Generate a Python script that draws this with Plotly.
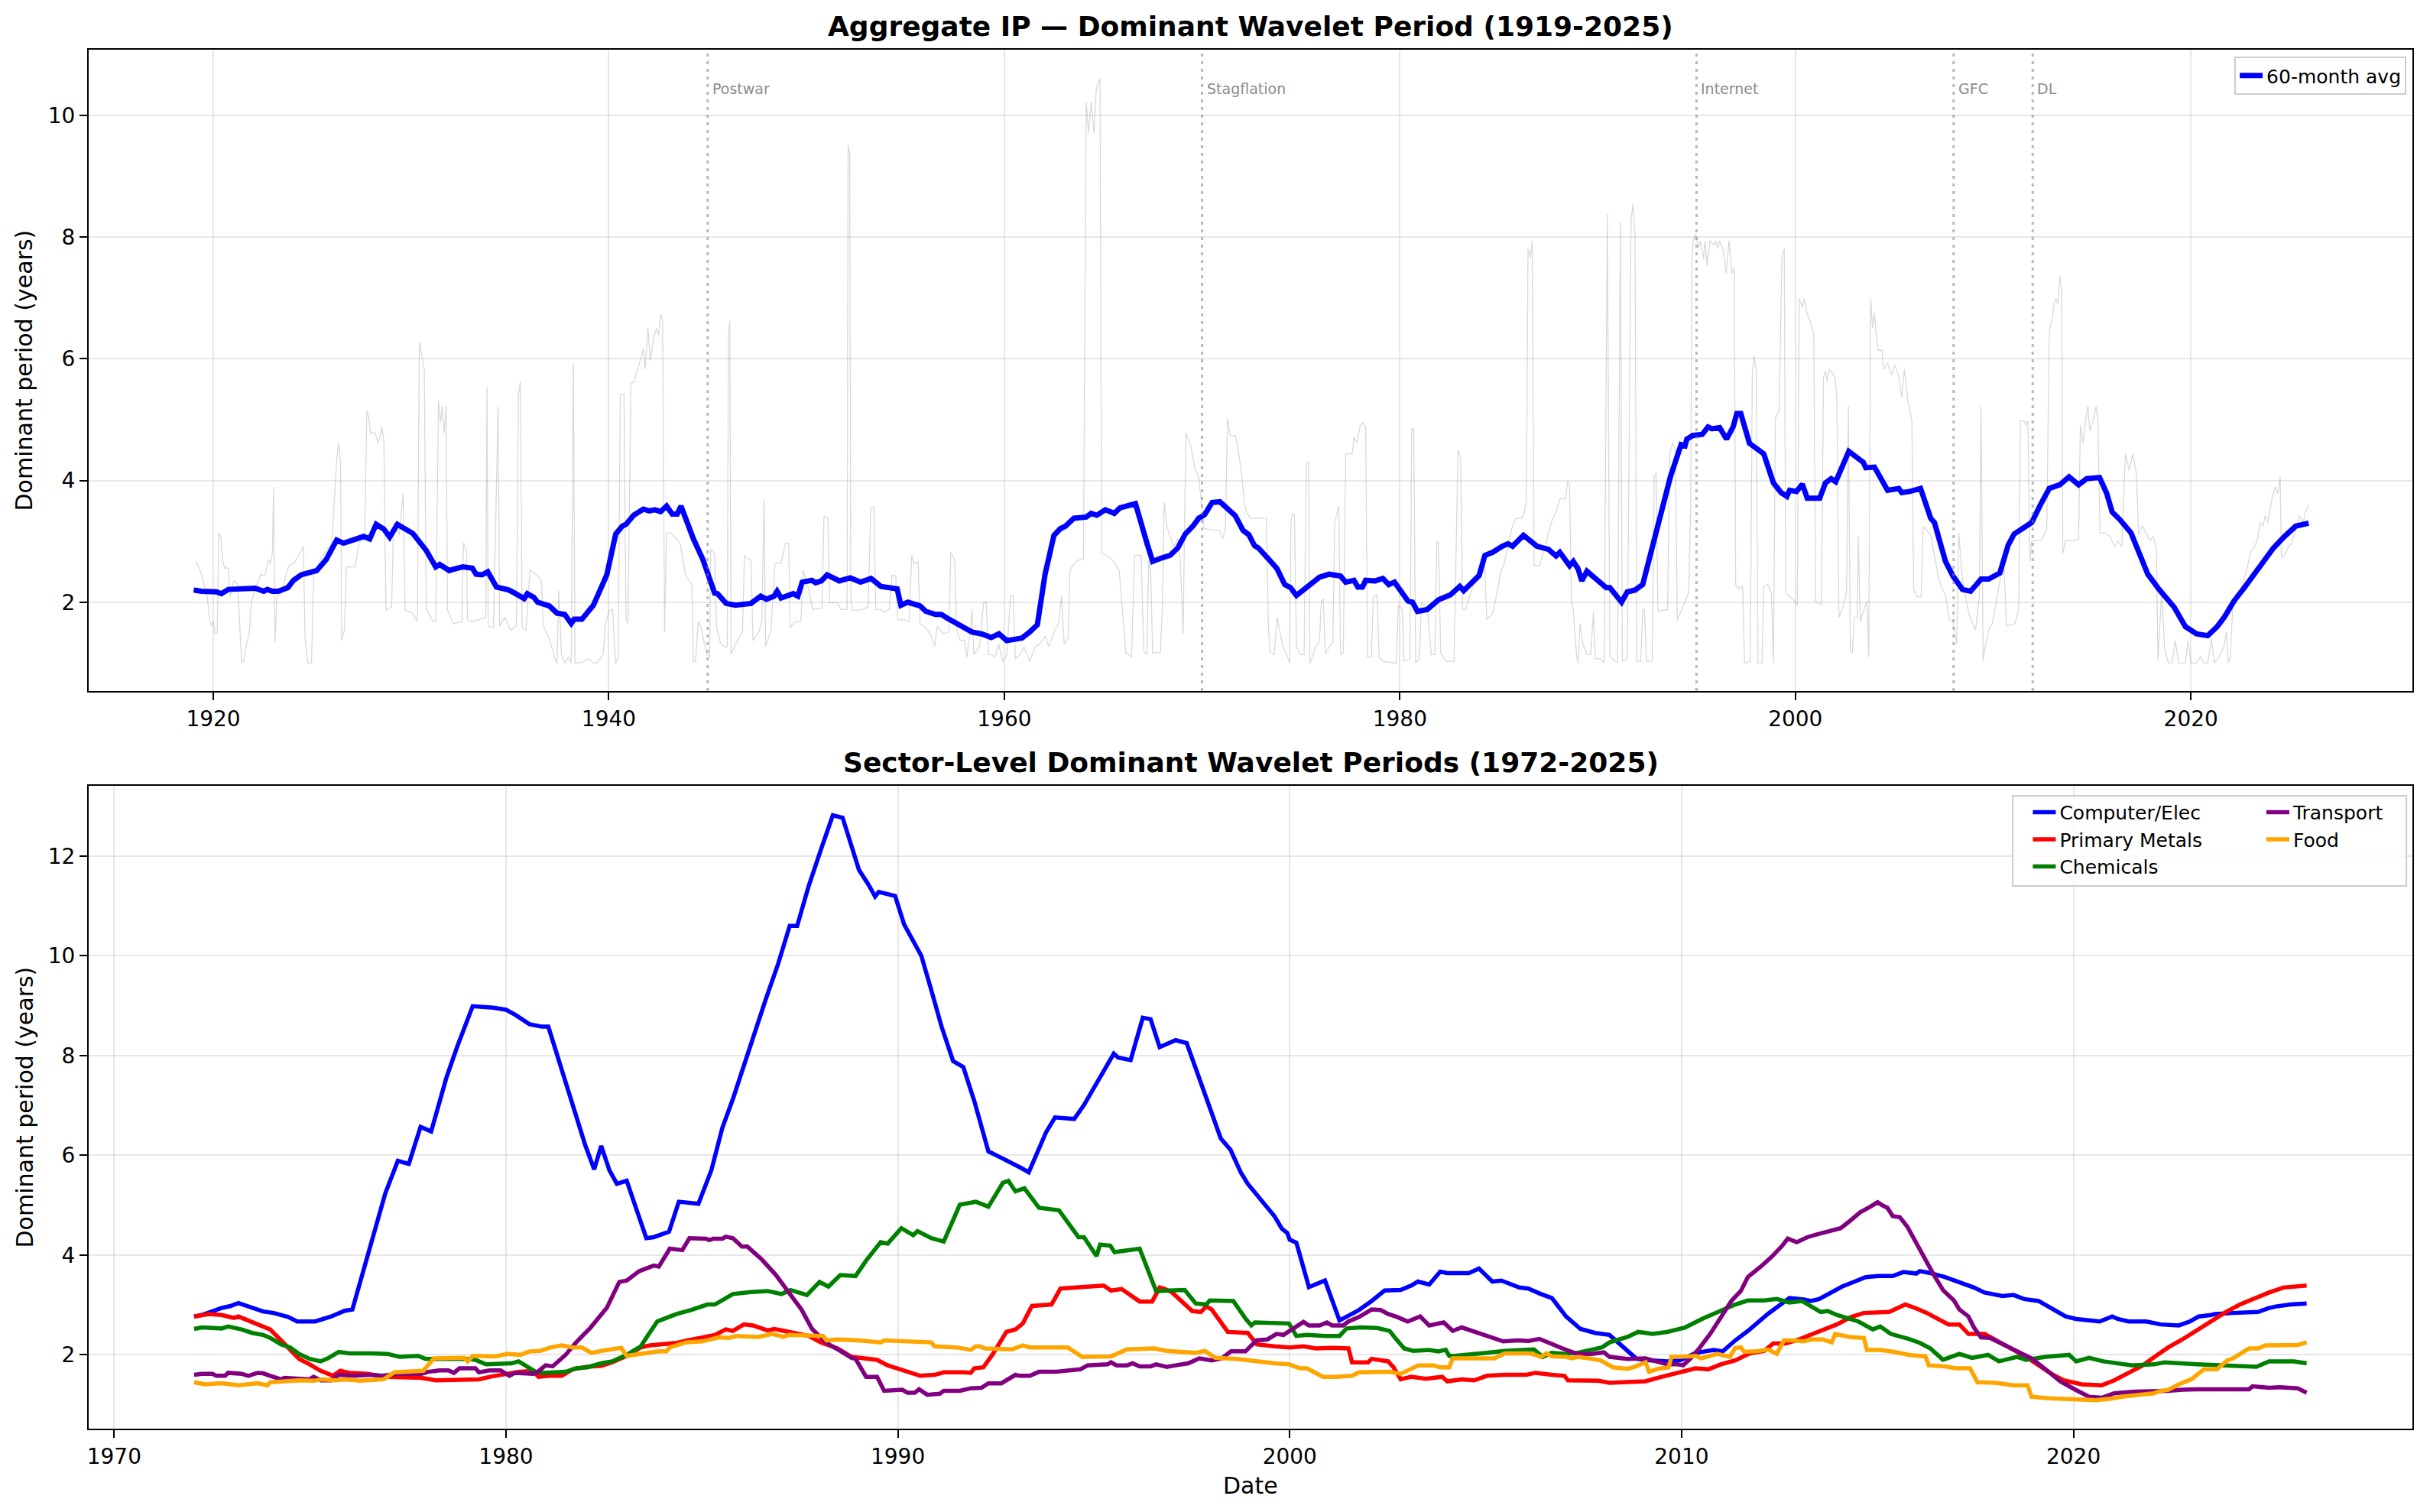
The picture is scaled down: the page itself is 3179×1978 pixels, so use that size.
import plotly.graph_objects as go

# ---------------- Top panel data: aggregate IP ----------------
raw_years = [1919.1,1919.2,1919.4,1919.7,1919.8,1919.9,1920.0,1920.1,1920.2,1920.28,1920.38,1920.47,1920.57,1920.76,1920.86,1921.05,1921.24,1921.43,1921.53,1921.68,1921.82,1921.92,1922.12,1922.41,1922.6,1922.8,1922.9,1922.99,1923.05,1923.12,1923.22,1923.47,1923.67,1923.82,1924.15,1924.45,1924.56,1924.64,1924.78,1924.97,1925.07,1925.42,1925.99,1926.24,1926.34,1926.44,1926.49,1926.63,1926.73,1927.17,1927.37,1927.66,1927.76,1927.86,1927.95,1928.19,1928.34,1928.53,1928.63,1928.73,1929.02,1929.12,1929.41,1929.6,1929.7,1930.09,1930.32,1930.42,1930.54,1930.67,1930.77,1931.06,1931.25,1931.39,1931.49,1931.58,1931.68,1931.78,1931.84,1932.13,1932.57,1932.65,1932.81,1932.85,1933.1,1933.78,1933.84,1933.9,1934.17,1934.4,1934.48,1934.75,1935.04,1935.33,1935.43,1935.53,1935.62,1935.82,1936.01,1936.4,1936.59,1936.69,1936.98,1937.28,1937.38,1937.47,1937.61,1937.77,1937.96,1938.1,1938.21,1938.29,1938.64,1938.93,1939.22,1939.42,1939.71,1939.85,1940.04,1940.19,1940.35,1940.48,1940.58,1940.77,1940.87,1940.97,1941.12,1941.26,1941.55,1941.75,1941.84,1941.98,1942.1,1942.29,1942.43,1942.52,1942.62,1942.72,1942.82,1942.92,1943.11,1943.31,1943.6,1943.89,1944.2,1944.28,1944.38,1944.52,1944.67,1944.96,1945.1,1945.15,1945.35,1945.45,1945.64,1945.83,1945.99,1946.05,1946.12,1946.18,1946.41,1946.76,1946.86,1947.09,1947.19,1947.29,1947.58,1947.74,1947.85,1947.93,1948.2,1948.4,1948.71,1948.94,1949.1,1949.17,1949.43,1949.72,1949.82,1950.1,1950.3,1950.59,1950.78,1950.88,1951.08,1951.17,1951.56,1951.75,1952.05,1952.1,1952.18,1952.24,1952.33,1952.72,1953.11,1953.25,1953.4,1953.5,1953.79,1953.89,1954.18,1954.32,1954.51,1954.61,1954.96,1955.19,1955.31,1955.44,1955.64,1955.74,1956.03,1956.32,1956.48,1956.61,1956.9,1957.2,1957.29,1957.49,1957.59,1957.78,1957.98,1958.11,1958.27,1958.37,1958.46,1958.75,1958.95,1959.08,1959.2,1959.33,1959.53,1959.71,1959.92,1960.12,1960.31,1960.45,1960.56,1960.8,1960.99,1961.28,1961.57,1961.77,1962.06,1962.25,1962.54,1962.74,1962.89,1963.03,1963.22,1963.32,1963.61,1963.81,1964.0,1964.14,1964.26,1964.39,1964.53,1964.65,1964.84,1964.92,1965.17,1965.46,1965.81,1965.95,1966.14,1966.43,1966.59,1966.92,1967.05,1967.21,1967.3,1967.4,1967.5,1967.89,1967.99,1968.08,1968.22,1968.38,1968.57,1968.77,1968.9,1969.04,1969.18,1969.43,1969.63,1969.82,1970.11,1970.5,1970.89,1971.05,1971.18,1971.28,1971.42,1971.67,1971.77,1971.96,1972.16,1972.25,1972.45,1973.25,1973.35,1973.45,1973.64,1973.79,1973.89,1974.09,1974.28,1974.42,1974.49,1974.57,1974.67,1974.77,1974.96,1975.16,1975.27,1975.39,1975.45,1975.54,1975.74,1975.93,1976.03,1976.13,1976.23,1976.42,1976.61,1976.71,1976.91,1977.0,1977.14,1977.26,1977.59,1977.68,1977.84,1977.98,1978.11,1978.27,1978.37,1978.56,1978.66,1978.85,1978.95,1979.14,1979.82,1979.92,1980.12,1980.21,1980.51,1980.6,1980.7,1980.8,1980.99,1981.09,1981.38,1981.58,1981.77,1981.87,1981.96,1982.06,1982.35,1982.74,1982.94,1983.07,1983.17,1983.33,1983.52,1983.72,1984.01,1984.26,1984.4,1984.69,1984.92,1985.12,1985.27,1985.47,1985.66,1985.86,1986.15,1986.28,1986.4,1986.48,1986.6,1986.69,1986.79,1987.06,1987.22,1987.41,1987.7,1987.9,1988.09,1988.39,1988.48,1988.58,1988.68,1988.77,1988.93,1989.01,1989.11,1989.26,1989.46,1989.65,1989.79,1989.88,1990.14,1990.33,1990.49,1990.62,1991.01,1991.15,1991.25,1991.5,1991.69,1991.79,1991.89,1991.98,1992.18,1992.28,1992.37,1992.47,1992.76,1992.86,1992.96,1993.05,1993.54,1993.64,1993.79,1993.93,1994.03,1994.22,1994.42,1994.61,1994.71,1994.77,1994.84,1994.96,1995.1,1995.19,1995.35,1995.43,1995.54,1995.68,1995.88,1995.97,1996.07,1996.17,1996.36,1996.5,1996.65,1996.79,1996.91,1996.98,1997.14,1997.33,1997.43,1997.72,1997.82,1997.92,1998.02,1998.11,1998.31,1998.4,1998.6,1998.79,1998.89,1998.99,1999.18,1999.32,1999.44,1999.51,1999.71,1999.96,2000.1,2000.19,2000.35,2000.45,2000.58,2000.74,2000.93,2001.03,2001.32,2001.42,2001.52,2001.61,2001.71,2002.0,2002.1,2002.2,2002.43,2002.59,2002.68,2002.78,2002.88,2002.98,2003.13,2003.18,2003.28,2003.43,2003.62,2003.71,2003.81,2003.9,2004.0,2004.09,2004.19,2004.38,2004.47,2004.66,2004.85,2005.04,2005.23,2005.38,2005.51,2005.7,2005.89,2005.98,2006.17,2006.36,2006.46,2006.65,2006.84,2007.03,2007.22,2007.41,2007.59,2007.78,2007.97,2008.07,2008.16,2008.26,2008.45,2008.64,2008.83,2009.11,2009.3,2009.39,2009.49,2009.58,2009.77,2009.96,2010.15,2010.34,2010.53,2010.68,2011.1,2011.29,2011.38,2011.57,2011.67,2011.76,2011.86,2011.95,2012.42,2012.71,2012.84,2012.99,2013.09,2013.18,2013.28,2013.37,2013.47,2013.52,2013.66,2014.13,2014.32,2014.41,2014.55,2014.66,2014.79,2014.89,2015.08,2015.21,2015.3,2015.4,2015.64,2015.93,2016.12,2016.31,2016.5,2016.69,2016.88,2017.06,2017.25,2017.35,2017.54,2017.73,2017.92,2018.11,2018.26,2018.33,2018.52,2018.67,2018.86,2019.05,2019.2,2019.39,2019.72,2019.85,2020.0,2020.28,2020.47,2020.66,2020.85,2021.04,2021.17,2021.42,2021.67,2021.8,2021.89,2021.99,2022.12,2022.27,2022.46,2022.65,2022.84,2023.03,2023.22,2023.37,2023.5,2023.64,2023.75,2023.88,2023.98,2024.13,2024.26,2024.39,2024.51,2024.58,2024.73,2024.92,2025.11,2025.3,2025.49,2025.68,2025.78,2025.97]
raw_period = [2.67,2.63,2.46,2.09,1.75,1.61,1.68,1.49,1.49,3.14,3.08,2.70,2.56,2.56,2.09,2.36,2.29,1.02,1.02,1.31,1.48,1.99,2.22,2.46,2.43,2.70,2.63,2.80,3.89,1.34,2.09,2.16,2.43,2.60,2.67,2.84,2.91,1.41,1.0,1.0,2.43,2.70,2.97,4.33,4.61,4.30,1.37,1.54,2.58,2.58,2.97,3.11,5.14,5.05,4.78,4.78,4.61,4.88,4.61,1.87,1.92,3.31,3.11,3.79,1.87,1.82,1.68,6.27,6.07,5.83,1.88,1.71,1.68,5.32,4.95,5.22,4.78,5.23,1.88,1.65,1.68,2.97,2.84,1.71,1.68,1.75,5.53,1.61,1.58,5.22,1.61,1.75,1.54,1.61,5.42,5.63,1.58,1.54,2.53,2.43,2.36,1.61,1.41,1.07,1.0,2.19,1.14,1.0,1.10,1.0,5.93,1.0,1.01,1.07,1.0,1.01,1.14,1.68,1.87,1.88,1.0,1.10,5.42,5.42,1.71,1.65,5.61,5.61,5.93,6.17,5.83,6.50,5.97,6.38,6.50,6.39,6.73,6.62,1.51,3.14,3.14,3.08,2.97,2.43,2.29,1.02,1.02,1.68,1.58,1.14,1.10,2.87,2.80,1.58,1.34,1.27,1.27,6.44,6.62,1.14,1.31,1.51,2.77,2.70,2.70,1.37,1.51,1.68,3.69,1.27,1.54,2.63,2.65,2.97,2.97,1.58,1.68,1.68,2.53,2.22,1.88,1.90,1.90,3.42,3.38,1.99,1.99,1.88,1.88,9.51,9.37,2.02,1.87,1.87,1.92,3.55,3.57,1.88,1.88,1.83,1.88,2.44,2.43,1.71,1.71,1.68,2.77,2.63,2.67,1.65,1.58,1.44,1.27,1.61,1.48,1.51,2.82,2.70,1.54,1.37,1.37,1.10,1.54,1.88,1.14,1.27,1.99,2.02,1.14,1.14,1.10,1.31,1.03,1.12,2.09,2.12,1.07,1.14,1.27,1.03,1.27,1.31,1.44,1.27,1.54,1.65,2.10,1.31,1.41,2.53,2.67,2.70,2.71,10.22,9.71,10.22,9.71,10.43,10.61,2.80,2.77,2.70,2.53,1.99,1.17,1.10,2.77,2.77,1.20,1.14,2.70,2.50,1.17,1.17,1.88,3.65,3.25,3.08,2.91,3.04,2.67,1.48,4.78,4.57,4.20,4.06,3.21,3.19,3.18,3.04,3.21,5.02,4.74,4.74,4.61,4.20,3.59,3.48,3.38,3.38,1.61,1.17,1.14,1.75,1.58,1.27,1.14,1.0,3.31,3.45,3.45,1.27,1.14,1.14,4.30,4.30,1.0,1.07,1.27,1.34,2.02,2.05,1.14,1.27,1.34,3.31,3.59,1.14,1.17,4.44,4.44,4.71,4.62,4.88,4.95,4.88,1.10,1.10,2.09,2.12,1.10,1.03,1.0,1.95,1.88,1.03,1.07,4.85,4.85,1.0,1.07,1.99,1.92,1.14,1.14,3.01,2.97,1.17,1.03,1.03,4.51,4.37,1.88,1.88,2.09,2.29,2.39,2.80,1.71,1.82,2.16,2.53,2.63,2.91,3.21,3.38,3.38,3.45,3.69,7.81,7.67,7.94,2.60,2.60,2.77,3.01,3.35,3.48,3.70,3.70,3.99,3.93,1.99,1.88,1.14,1.0,1.65,1.31,1.14,1.14,1.85,1.07,1.07,1.0,8.39,1.10,1.0,8.25,1.03,1.07,8.28,8.54,8.01,1.03,1.03,1.88,1.88,1.03,1.03,4.06,4.13,1.85,1.88,4.44,4.61,4.51,1.71,1.85,2.02,2.16,3.69,7.67,7.94,8.05,7.81,7.94,7.64,7.94,7.53,7.94,7.87,7.94,7.81,7.94,7.77,7.40,7.94,7.40,7.50,2.29,2.22,2.26,1.0,1.03,5.76,6.04,5.83,1.0,1.0,2.26,2.29,2.16,1.0,5.02,5.15,7.67,7.81,2.16,2.09,2.02,1.95,6.99,6.85,6.99,6.75,6.62,6.41,2.02,1.95,5.70,5.80,5.63,5.83,5.70,5.36,1.75,1.95,2.16,5.22,1.20,1.17,1.75,1.75,3.08,1.68,1.85,2.02,1.10,6.99,6.51,6.75,6.38,6.14,6.14,5.83,5.93,5.73,5.90,5.70,5.36,5.83,5.29,4.98,2.22,2.09,2.09,3.25,3.18,3.11,2.77,2.43,2.22,2.12,1.71,1.68,1.48,1.31,3.14,2.36,2.02,1.75,1.54,2.09,5.22,1.03,1.24,1.54,1.65,1.99,2.36,2.70,1.61,1.65,1.88,4.98,4.98,4.91,4.98,2.67,3.01,3.01,3.21,6.48,6.65,6.92,6.99,6.89,7.36,7.13,2.80,3.01,3.01,3.04,4.91,4.61,4.95,5.22,4.81,5.02,5.22,4.95,3.14,3.14,3.08,2.91,3.01,2.91,4.44,4.16,4.44,4.10,3.11,3.25,3.14,3.01,3.08,2.87,1.03,2.16,1.24,1.0,1.0,1.37,1.0,1.0,1.37,1.0,1.0,1.10,1.0,1.0,1.41,1.0,1.10,1.27,1.51,1.0,1.10,1.95,1.99,2.16,2.33,2.56,2.84,2.91,3.04,3.31,3.25,3.42,3.31,3.48,3.76,3.89,3.79,4.06,2.74,2.77,2.91,2.97,3.18,3.42,3.31,3.48,3.59]

avg_years = [1919.01,1919.30,1919.40,1920.17,1920.41,1920.76,1921.73,1922.12,1922.55,1922.74,1922.99,1923.28,1923.77,1924.06,1924.45,1925.23,1925.71,1926.24,1926.59,1927.27,1927.60,1927.91,1928.24,1928.63,1928.92,1929.31,1929.80,1930.09,1930.77,1931.25,1931.45,1931.93,1932.23,1932.61,1933.10,1933.29,1933.59,1933.88,1934.32,1934.95,1935.24,1935.72,1935.88,1936.21,1936.40,1936.99,1937.38,1937.77,1938.10,1938.25,1938.64,1939.22,1939.90,1940.35,1940.68,1940.87,1941.26,1941.75,1942.04,1942.33,1942.62,1942.92,1943.21,1943.46,1943.65,1944.28,1944.76,1945.35,1945.50,1945.93,1946.41,1947.19,1947.68,1947.97,1948.36,1948.51,1948.71,1949.33,1949.56,1949.78,1950.27,1950.46,1950.75,1951.04,1951.66,1952.21,1952.73,1953.26,1953.76,1954.58,1954.77,1955.12,1955.74,1956.03,1956.52,1956.81,1957.10,1958.17,1958.37,1958.85,1959.34,1959.73,1960.12,1960.51,1960.89,1961.28,1961.67,1962.06,1962.51,1962.84,1963.09,1963.52,1964.14,1964.39,1964.68,1965.11,1965.56,1965.85,1966.63,1967.21,1967.50,1967.89,1968.38,1968.77,1969.15,1969.54,1969.83,1970.13,1970.51,1970.90,1971.29,1971.68,1972.07,1972.36,1972.65,1972.85,1973.44,1973.79,1974.18,1974.47,1974.77,1975.35,1975.93,1976.42,1977.00,1977.26,1977.68,1977.88,1978.11,1978.27,1978.75,1979.14,1979.44,1979.73,1980.41,1980.64,1980.89,1981.38,1981.96,1982.55,1983.03,1983.23,1983.62,1984.01,1984.30,1984.69,1985.18,1985.47,1985.70,1986.25,1986.93,1987.32,1987.51,1987.90,1988.09,1988.58,1988.77,1989.01,1989.20,1989.46,1989.79,1990.04,1990.43,1990.62,1991.21,1991.50,1991.89,1992.28,1992.67,1993.05,1993.35,1993.68,1994.22,1994.42,1994.51,1994.81,1995.29,1995.58,1995.78,1996.17,1996.52,1996.85,1997.04,1997.24,1997.68,1998.40,1998.89,1999.28,1999.57,1999.71,2000.06,2000.35,2000.60,2001.23,2001.52,2001.81,2002.04,2002.70,2003.43,2003.56,2004.00,2004.66,2005.23,2005.38,2005.80,2006.33,2006.84,2007.03,2007.59,2007.97,2008.45,2008.86,2009.39,2009.77,2010.34,2010.76,2011.06,2011.48,2011.95,2012.39,2012.84,2013.37,2013.84,2014.32,2014.73,2015.38,2015.74,2016.02,2016.40,2016.97,2017.82,2018.39,2019.15,2019.72,2020.28,2020.85,2021.33,2021.70,2022.18,2022.75,2023.60,2024.17,2024.73,2025.30,2025.95]
avg_period = [2.20,2.20,2.18,2.17,2.14,2.21,2.21,2.23,2.18,2.21,2.18,2.18,2.24,2.36,2.45,2.52,2.70,3.02,2.97,3.03,3.08,3.04,3.28,3.20,3.07,3.28,3.20,3.13,2.85,2.58,2.62,2.52,2.55,2.58,2.56,2.46,2.45,2.50,2.25,2.20,2.15,2.06,2.14,2.08,2.00,1.94,1.82,1.80,1.65,1.72,1.72,1.95,2.45,3.12,3.25,3.28,3.43,3.53,3.50,3.52,3.49,3.58,3.45,3.45,3.58,3.04,2.70,2.15,2.14,1.98,1.95,1.98,2.10,2.05,2.10,2.18,2.07,2.14,2.10,2.33,2.36,2.32,2.35,2.45,2.35,2.40,2.33,2.39,2.26,2.22,1.95,2.00,1.94,1.85,1.80,1.80,1.74,1.54,1.51,1.48,1.42,1.48,1.37,1.39,1.41,1.51,1.63,2.46,3.10,3.21,3.25,3.38,3.40,3.46,3.43,3.52,3.46,3.55,3.62,2.97,2.67,2.72,2.77,2.89,3.12,3.25,3.38,3.44,3.64,3.65,3.53,3.42,3.18,3.11,2.93,2.89,2.68,2.55,2.29,2.24,2.11,2.26,2.41,2.46,2.43,2.33,2.36,2.25,2.25,2.36,2.35,2.39,2.29,2.33,2.02,2.00,1.85,1.88,2.04,2.12,2.26,2.19,2.33,2.44,2.77,2.82,2.92,2.96,2.92,3.10,2.92,2.88,2.87,2.76,2.82,2.60,2.67,2.55,2.35,2.51,2.41,2.36,2.24,2.24,2.00,2.17,2.20,2.29,2.77,3.29,3.65,4.06,4.59,4.57,4.68,4.74,4.76,4.88,4.85,4.87,4.68,4.88,5.10,5.10,4.61,4.44,3.96,3.80,3.74,3.84,3.82,3.94,3.71,3.71,3.96,4.03,3.98,4.48,4.30,4.21,4.22,3.84,3.87,3.80,3.82,3.87,3.38,3.31,2.67,2.43,2.21,2.18,2.38,2.38,2.48,2.94,3.12,3.20,3.31,3.60,3.87,3.93,4.06,3.93,4.03,4.05,3.79,3.48,3.36,3.14,2.46,2.21,1.92,1.60,1.48,1.45,1.60,1.76,2.02,2.26,2.63,2.89,3.08,3.25,3.30]

event_years = [1945, 1970, 1995, 2008, 2012]
event_labels = ["Postwar", "Stagflation", "Internet", "GFC", "DL"]

# ---------------- Bottom panel data: sectors ----------------
comp_years = [1972.04,1972.24,1972.74,1972.97,1973.17,1973.43,1973.80,1974.07,1974.44,1974.67,1974.90,1975.13,1975.54,1975.87,1976.08,1976.33,1976.56,1976.92,1977.24,1977.52,1977.82,1978.09,1978.48,1978.76,1979.15,1979.68,1980.00,1980.23,1980.60,1980.92,1981.08,1981.42,1981.75,1982.02,1982.25,1982.43,1982.64,1982.83,1983.08,1983.35,1983.58,1983.77,1984.16,1984.41,1984.91,1985.24,1985.52,1985.79,1986.07,1986.34,1986.62,1986.94,1987.24,1987.43,1987.72,1988.04,1988.34,1988.59,1988.78,1989.01,1989.24,1989.42,1989.51,1989.93,1990.16,1990.39,1990.60,1990.85,1991.12,1991.41,1991.67,1991.95,1992.31,1992.59,1992.96,1993.14,1993.34,1993.56,1993.78,1994.01,1994.50,1994.75,1995.02,1995.25,1995.51,1995.62,1995.94,1996.25,1996.45,1996.68,1997.09,1997.37,1997.64,1997.96,1998.24,1998.49,1998.75,1998.93,1999.20,1999.43,1999.61,1999.80,1999.94,2000.00,2000.17,2000.49,2000.90,2001.27,2001.73,2002.09,2002.42,2002.83,2003.10,2003.27,2003.56,2003.84,2004.02,2004.57,2004.83,2005.17,2005.40,2005.86,2006.09,2006.41,2006.69,2007.05,2007.42,2007.79,2008.16,2008.52,2008.85,2009.17,2009.63,2009.99,2010.36,2010.82,2011.05,2011.37,2011.74,2012.20,2012.75,2013.12,2013.30,2013.51,2013.87,2014.10,2014.42,2014.70,2015.02,2015.39,2015.66,2015.99,2016.08,2016.35,2016.72,2017.09,2017.46,2017.73,2018.19,2018.47,2018.74,2019.11,2019.48,2019.80,2020.07,2020.40,2020.67,2020.99,2021.13,2021.41,2021.86,2022.23,2022.69,2022.97,2023.20,2023.52,2023.61,2024.07,2024.71,2024.99,2025.17,2025.54,2025.95]
comp_period = [2.77,2.80,2.94,2.98,3.04,2.97,2.87,2.84,2.76,2.67,2.66,2.67,2.77,2.88,2.91,3.60,4.19,5.24,5.89,5.83,6.57,6.48,7.56,8.19,8.99,8.96,8.92,8.82,8.63,8.58,8.58,7.72,6.92,6.21,5.72,6.19,5.70,5.43,5.49,4.86,4.34,4.36,4.47,5.07,5.03,5.70,6.55,7.13,7.81,8.48,9.11,9.83,10.60,10.60,11.39,12.14,12.82,12.77,12.27,11.72,11.44,11.19,11.28,11.20,10.63,10.29,10.00,9.32,8.57,7.89,7.77,7.09,6.08,5.97,5.83,5.75,5.66,6.08,6.46,6.76,6.73,7.01,7.39,7.68,8.04,7.96,7.91,8.76,8.73,8.17,8.31,8.25,7.64,6.97,6.34,6.11,5.66,5.43,5.16,4.93,4.78,4.53,4.44,4.31,4.25,3.36,3.49,2.69,2.88,3.08,3.29,3.30,3.39,3.47,3.41,3.67,3.64,3.64,3.73,3.47,3.49,3.35,3.33,3.22,3.14,2.77,2.52,2.44,2.40,2.15,1.92,1.89,1.87,1.90,2.04,2.10,2.07,2.29,2.51,2.82,3.14,3.11,3.08,3.12,3.28,3.37,3.47,3.56,3.58,3.58,3.66,3.63,3.68,3.64,3.56,3.46,3.35,3.25,3.18,3.20,3.12,3.08,2.91,2.77,2.72,2.70,2.67,2.77,2.72,2.67,2.67,2.61,2.59,2.67,2.77,2.80,2.82,2.84,2.86,2.94,2.97,3.01,3.03]

metal_years = [1972.04,1972.42,1972.74,1973.06,1973.17,1973.43,1973.71,1973.98,1974.26,1974.53,1974.72,1974.99,1975.27,1975.59,1975.77,1976.00,1976.46,1976.92,1977.38,1977.84,1978.21,1978.58,1978.85,1979.31,1979.59,1979.95,1980.32,1980.69,1980.83,1981.10,1981.42,1981.70,1982.07,1982.43,1982.71,1983.08,1983.44,1983.67,1984.09,1984.36,1984.64,1985.01,1985.33,1985.61,1985.79,1986.07,1986.30,1986.67,1986.85,1987.35,1987.72,1988.04,1988.46,1988.82,1989.47,1989.74,1990.06,1990.39,1990.57,1990.94,1991.17,1991.67,1991.86,1991.95,1992.18,1992.41,1992.77,1993.00,1993.19,1993.42,1993.92,1994.15,1994.80,1995.25,1995.44,1995.71,1996.17,1996.49,1996.68,1996.82,1997.00,1997.51,1997.73,1997.87,1998.01,1998.42,1998.93,1999.16,1999.61,2000.00,2000.35,2000.67,2001.08,2001.50,2001.59,2002.00,2002.09,2002.51,2002.65,2002.83,2003.10,2003.47,2003.89,2004.02,2004.39,2004.71,2005.03,2005.49,2006.04,2006.27,2006.69,2007.01,2007.10,2007.70,2007.88,2008.16,2008.71,2009.08,2009.44,2009.81,2010.09,2010.36,2010.68,2011.00,2011.37,2011.74,2012.11,2012.34,2012.66,2013.03,2013.41,2013.69,2013.96,2014.33,2014.65,2015.30,2015.71,2015.99,2016.26,2016.54,2016.81,2017.09,2017.32,2017.73,2018.10,2018.47,2018.79,2019.11,2019.48,2019.75,2020.21,2020.72,2021.04,2021.41,2021.77,2022.14,2022.42,2022.78,2023.15,2023.52,2023.89,2024.25,2024.62,2024.99,2025.36,2025.95]
metal_period = [2.77,2.82,2.80,2.74,2.77,2.69,2.59,2.51,2.29,2.08,1.92,1.81,1.68,1.58,1.68,1.64,1.62,1.56,1.54,1.54,1.49,1.49,1.51,1.51,1.56,1.61,1.66,1.68,1.56,1.58,1.58,1.71,1.76,1.78,1.85,1.98,2.15,2.19,2.23,2.24,2.29,2.35,2.40,2.51,2.48,2.61,2.59,2.49,2.52,2.44,2.38,2.25,2.13,1.96,1.90,1.79,1.71,1.62,1.58,1.60,1.65,1.65,1.64,1.73,1.75,2.00,2.46,2.51,2.63,2.98,3.01,3.33,3.37,3.39,3.29,3.32,3.07,3.07,3.35,3.32,3.25,2.88,2.86,2.97,2.91,2.46,2.44,2.21,2.17,2.15,2.17,2.13,2.14,2.13,1.85,1.85,1.92,1.87,1.75,1.51,1.56,1.52,1.56,1.47,1.51,1.49,1.58,1.60,1.60,1.64,1.60,1.58,1.49,1.49,1.48,1.44,1.45,1.47,1.55,1.62,1.66,1.73,1.71,1.81,1.89,2.03,2.08,2.23,2.23,2.32,2.44,2.52,2.61,2.76,2.84,2.86,3.01,2.93,2.84,2.72,2.61,2.61,2.42,2.42,2.25,2.10,1.96,1.79,1.60,1.49,1.41,1.39,1.49,1.64,1.79,2.00,2.15,2.31,2.49,2.67,2.86,3.01,3.14,3.25,3.35,3.39]

chem_years = [1972.04,1972.24,1972.74,1972.91,1973.25,1973.52,1973.80,1973.98,1974.26,1974.49,1974.72,1974.99,1975.27,1975.45,1975.73,1976.00,1976.56,1976.97,1977.29,1977.75,1977.95,1978.30,1978.67,1979.04,1979.22,1979.49,1979.86,1980.14,1980.32,1980.51,1980.78,1980.96,1981.52,1981.79,1982.07,1982.43,1982.71,1983.08,1983.44,1983.63,1983.86,1984.09,1984.36,1984.73,1985.14,1985.33,1985.52,1985.79,1986.25,1986.67,1987.03,1987.26,1987.68,1988.00,1988.23,1988.53,1988.92,1989.19,1989.56,1989.74,1990.09,1990.39,1990.50,1990.85,1991.17,1991.58,1991.99,1992.31,1992.68,1992.82,1993.00,1993.23,1993.60,1994.11,1994.61,1994.75,1995.07,1995.16,1995.42,1995.53,1996.17,1996.59,1996.91,1997.32,1997.60,1997.87,1997.96,1998.56,1998.88,1999.02,1999.11,1999.52,1999.98,2000.17,2000.44,2000.90,2001.27,2001.45,2001.82,2002.23,2002.55,2002.69,2002.92,2003.15,2003.56,2003.79,2003.98,2004.07,2004.21,2005.03,2005.49,2006.23,2006.46,2006.69,2007.05,2007.33,2007.70,2007.97,2008.16,2008.62,2008.89,2009.26,2009.63,2010.09,2010.55,2010.91,2011.37,2011.69,2012.11,2012.43,2012.75,2013.07,2013.32,2013.55,2013.73,2013.96,2014.51,2014.88,2015.07,2015.34,2015.80,2016.08,2016.35,2016.67,2017.09,2017.41,2017.82,2018.10,2018.56,2018.79,2019.29,2019.89,2020.07,2020.40,2020.76,2021.13,2021.50,2022.05,2022.32,2023.15,2023.70,2024.21,2024.67,2024.99,2025.36,2025.63,2025.95]
chem_period = [2.52,2.55,2.53,2.57,2.51,2.44,2.40,2.34,2.21,2.15,2.02,1.92,1.87,1.93,2.06,2.03,2.03,2.02,1.96,1.98,1.92,1.93,1.92,1.92,1.90,1.81,1.83,1.83,1.87,1.77,1.65,1.64,1.66,1.73,1.75,1.83,1.87,2.00,2.17,2.40,2.67,2.74,2.82,2.90,3.01,3.01,3.09,3.22,3.26,3.28,3.22,3.30,3.20,3.46,3.37,3.60,3.58,3.89,4.26,4.23,4.54,4.40,4.48,4.34,4.27,5.01,5.07,4.97,5.45,5.49,5.28,5.34,4.95,4.90,4.36,4.36,3.98,4.21,4.19,4.06,4.13,3.28,3.29,3.30,3.03,3.01,3.09,3.08,2.72,2.59,2.65,2.65,2.63,2.38,2.40,2.38,2.38,2.53,2.55,2.54,2.48,2.34,2.13,2.08,2.10,2.07,2.10,1.98,1.98,2.04,2.08,2.11,1.96,2.04,2.02,2.04,2.10,2.15,2.25,2.36,2.46,2.42,2.46,2.55,2.73,2.86,3.01,3.09,3.09,3.12,3.05,3.08,2.97,2.86,2.88,2.80,2.67,2.51,2.57,2.42,2.32,2.24,2.13,1.90,2.02,1.94,2.00,1.87,1.96,1.90,1.96,2.00,1.87,1.94,1.87,1.83,1.79,1.81,1.85,1.81,1.79,1.76,1.76,1.87,1.87,1.87,1.83]

trans_years = [1972.04,1972.24,1972.51,1972.61,1972.83,1972.91,1973.25,1973.43,1973.66,1973.80,1973.98,1974.26,1974.35,1974.90,1974.99,1975.09,1975.27,1975.54,1975.73,1976.14,1976.56,1976.83,1977.29,1977.84,1978.02,1978.30,1978.53,1978.67,1978.81,1979.22,1979.31,1979.59,1979.86,1980.09,1980.23,1980.69,1980.78,1981.01,1981.19,1981.52,1981.79,1982.16,1982.57,1982.89,1983.08,1983.40,1983.77,1983.90,1984.18,1984.50,1984.68,1985.10,1985.19,1985.29,1985.52,1985.61,1985.79,1986.02,1986.16,1986.53,1986.89,1987.17,1987.54,1987.81,1988.18,1988.55,1988.82,1988.92,1989.19,1989.47,1989.65,1990.11,1990.25,1990.43,1990.54,1990.75,1991.07,1991.17,1991.58,1991.86,1992.13,1992.31,1992.64,1993.00,1993.10,1993.37,1993.60,1994.01,1994.24,1994.66,1994.84,1995.35,1995.44,1995.58,1995.85,1995.99,1996.17,1996.45,1996.59,1996.86,1997.09,1997.32,1997.41,1997.69,1998.01,1998.27,1998.50,1998.87,1999.15,1999.43,1999.66,1999.84,2000.12,2000.35,2000.49,2000.76,2000.95,2001.08,2001.36,2001.50,2001.77,2002.09,2002.32,2002.51,2002.74,2003.01,2003.33,2003.56,2003.93,2004.16,2004.39,2004.76,2005.13,2005.45,2005.81,2006.09,2006.37,2006.60,2006.78,2006.96,2007.33,2007.70,2008.02,2008.16,2008.62,2009.08,2009.35,2009.63,2009.90,2010.04,2010.22,2010.45,2010.73,2011.00,2011.28,2011.51,2011.69,2012.02,2012.29,2012.57,2012.71,2012.94,2013.21,2013.47,2013.73,2014.06,2014.24,2014.56,2014.79,2015.00,2015.14,2015.25,2015.39,2015.57,2015.76,2015.99,2016.22,2016.44,2016.67,2016.95,2017.09,2017.32,2017.46,2017.64,2017.87,2018.19,2018.56,2018.93,2019.29,2019.66,2020.03,2020.40,2020.72,2021.04,2021.50,2022.23,2022.42,2022.78,2023.15,2024.07,2024.48,2024.57,2024.99,2025.26,2025.72,2025.95]
trans_period = [1.60,1.62,1.62,1.58,1.58,1.64,1.62,1.58,1.64,1.63,1.58,1.51,1.54,1.52,1.51,1.56,1.49,1.49,1.60,1.58,1.60,1.58,1.62,1.62,1.66,1.69,1.69,1.64,1.73,1.73,1.65,1.69,1.69,1.58,1.64,1.62,1.64,1.79,1.77,2.00,2.25,2.55,2.94,3.46,3.49,3.68,3.79,3.77,4.13,4.10,4.34,4.33,4.30,4.33,4.33,4.37,4.34,4.17,4.17,3.91,3.60,3.30,2.91,2.52,2.24,2.07,1.94,1.92,1.56,1.56,1.28,1.30,1.24,1.24,1.31,1.20,1.22,1.28,1.28,1.33,1.34,1.43,1.43,1.60,1.58,1.58,1.66,1.66,1.68,1.71,1.79,1.81,1.85,1.79,1.79,1.83,1.77,1.77,1.81,1.76,1.79,1.81,1.83,1.93,1.89,1.93,2.07,2.07,2.29,2.31,2.42,2.40,2.55,2.66,2.59,2.59,2.65,2.59,2.59,2.67,2.76,2.91,2.90,2.82,2.76,2.67,2.77,2.59,2.65,2.48,2.55,2.46,2.35,2.27,2.29,2.28,2.32,2.24,2.19,2.13,2.02,2.02,2.05,1.96,1.92,1.93,1.87,1.81,1.81,1.79,1.92,2.13,2.42,2.76,3.09,3.28,3.56,3.77,3.96,4.19,4.33,4.26,4.36,4.42,4.48,4.54,4.65,4.86,4.96,5.06,4.99,4.95,4.78,4.76,4.57,4.23,3.89,3.60,3.30,3.09,2.91,2.77,2.55,2.35,2.34,2.21,2.07,1.93,1.71,1.47,1.31,1.16,1.14,1.23,1.26,1.27,1.28,1.30,1.31,1.31,1.31,1.37,1.34,1.35,1.33,1.24]

food_years = [1972.04,1972.33,1972.74,1973.17,1973.66,1973.91,1973.98,1974.35,1974.72,1975.09,1975.32,1975.64,1975.91,1976.28,1976.88,1977.15,1977.47,1977.89,1978.16,1978.48,1978.76,1978.94,1979.02,1979.15,1979.72,1980.05,1980.37,1980.60,1980.87,1981.15,1981.42,1981.70,1981.93,1982.18,1982.43,1982.94,1983.08,1983.44,1983.90,1984.09,1984.18,1984.59,1985.01,1985.43,1985.70,1985.88,1986.44,1986.80,1987.08,1987.22,1987.77,1988.09,1988.18,1988.46,1989.01,1989.56,1989.65,1990.20,1990.57,1990.85,1990.94,1991.49,1991.86,1991.99,1992.09,1992.22,1992.91,1993.19,1993.37,1994.34,1994.70,1995.44,1995.85,1996.54,1996.86,1997.00,1997.60,1997.83,1998.10,1998.65,1999.11,1999.43,1999.61,1999.98,2000.26,2000.44,2000.85,2001.18,2001.59,2001.77,2002.09,2002.55,2002.83,2003.10,2003.29,2003.66,2003.84,2004.07,2004.16,2004.57,2005.22,2005.49,2006.14,2006.41,2006.55,2006.69,2007.05,2007.19,2007.37,2007.70,2007.93,2008.25,2008.62,2008.80,2009.08,2009.17,2009.40,2009.67,2009.74,2009.99,2010.36,2010.50,2010.91,2011.23,2011.37,2011.51,2011.60,2011.92,2012.20,2012.43,2012.61,2012.84,2013.12,2013.32,2013.60,2013.83,2013.92,2014.29,2014.65,2014.73,2015.07,2015.43,2015.80,2016.22,2016.31,2016.72,2017.00,2017.36,2017.55,2018.01,2018.47,2018.83,2018.93,2019.38,2019.66,2020.21,2020.58,2020.95,2021.22,2021.68,2022.05,2022.23,2022.42,2022.69,2022.92,2023.01,2023.33,2023.66,2023.93,2024.07,2024.48,2024.71,2024.90,2025.26,2025.72,2025.95]
food_period = [1.45,1.41,1.43,1.39,1.43,1.39,1.45,1.48,1.49,1.48,1.51,1.49,1.51,1.48,1.51,1.65,1.66,1.68,1.93,1.93,1.92,1.94,1.87,1.98,1.97,2.02,2.00,2.07,2.08,2.15,2.19,2.15,2.15,2.04,2.08,2.14,1.98,2.02,2.07,2.07,2.15,2.25,2.27,2.35,2.34,2.38,2.36,2.42,2.36,2.40,2.38,2.38,2.29,2.31,2.29,2.25,2.29,2.27,2.24,2.25,2.17,2.15,2.10,2.17,2.17,2.13,2.11,2.19,2.15,2.15,1.96,1.97,2.11,2.13,2.08,2.07,2.04,2.08,1.94,1.92,1.87,1.85,1.83,1.81,1.73,1.73,1.56,1.56,1.58,1.65,1.65,1.66,1.62,1.72,1.79,1.79,1.75,1.75,1.93,1.93,1.93,2.03,2.03,1.96,2.03,1.97,1.96,1.93,1.96,1.92,1.89,1.75,1.72,1.76,1.85,1.66,1.72,1.75,1.96,1.96,1.98,1.93,2.02,1.96,2.14,2.15,2.06,2.07,2.11,2.02,2.29,2.29,2.27,2.31,2.31,2.25,2.42,2.36,2.34,2.10,2.10,2.06,2.00,1.97,1.79,1.77,1.73,1.73,1.45,1.44,1.39,1.39,1.16,1.13,1.12,1.12,1.09,1.12,1.16,1.20,1.23,1.28,1.30,1.41,1.49,1.51,1.71,1.71,1.89,1.93,2.13,2.13,2.19,2.19,2.20,2.25]

sector_names = ["Computer/Elec", "Primary Metals", "Chemicals", "Transport", "Food"]
sector_colors = ["blue", "red", "green", "purple", "orange"]

FONT = "DejaVu Sans"
fig = go.Figure()

fig.add_trace(go.Scatter(x=raw_years, y=raw_period, mode="lines",
                         line=dict(color="rgba(128,128,128,0.3)", width=1.3),
                         showlegend=False, xaxis="x", yaxis="y", hoverinfo="skip"))
fig.add_trace(go.Scatter(x=avg_years, y=avg_period, mode="lines", name="60-month avg",
                         line=dict(color="blue", width=7), xaxis="x", yaxis="y", legend="legend"))

sector_x = [comp_years, metal_years, chem_years, trans_years, food_years]
sector_y = [comp_period, metal_period, chem_period, trans_period, food_period]
for i, (nm, col, xs, ys) in enumerate(zip(sector_names, sector_colors, sector_x, sector_y)):
    fig.add_trace(go.Scatter(x=xs, y=ys, mode="lines", name=nm,
                             line=dict(color=col, width=5.5), xaxis="x2", yaxis="y2",
                             legend="legend2" if i < 3 else "legend3"))

grid = "rgba(176,176,176,0.3)"
axis_common = dict(showline=True, linecolor="black", linewidth=2.2, mirror=True,
                   ticks="outside", ticklen=10, tickwidth=2.2, tickcolor="black",
                   showgrid=True, gridcolor=grid, gridwidth=2, zeroline=False,
                   tickfont=dict(family=FONT, size=28, color="black"))

fig.update_layout(
    width=3179, height=1978,
    margin=dict(l=116, r=23, t=65, b=109),
    paper_bgcolor="white", plot_bgcolor="white",
    font=dict(family=FONT, color="black"),
    xaxis=dict(domain=[0, 1], anchor="y", range=[1913.7, 2031.2],
               tickmode="array", tickvals=[1920, 1940, 1960, 1980, 2000, 2020],
               ticktext=["1920", "1940", "1960", "1980", "2000", "2020"], **axis_common),
    yaxis=dict(domain=[0.5349, 1], anchor="x", range=[0.54, 11.08],
               tickmode="array", tickvals=[2, 4, 6, 8, 10], ticktext=["2", "4", "6", "8", "10"],
               **axis_common),
    xaxis2=dict(domain=[0, 1], anchor="y2", range=[1969.35, 2028.65],
                tickmode="array", tickvals=[1970, 1980, 1990, 2000, 2010, 2020],
                ticktext=["1970", "1980", "1990", "2000", "2010", "2020"], **axis_common),
    yaxis2=dict(domain=[0, 0.4662], anchor="x2", range=[0.52, 13.41],
                tickmode="array", tickvals=[2, 4, 6, 8, 10, 12],
                ticktext=["2", "4", "6", "8", "10", "12"], **axis_common),
    legend=dict(x=0.9974, y=0.9950, xanchor="right", yanchor="top",
                bgcolor="rgba(255,255,255,0.8)", bordercolor="#cccccc", borderwidth=2,
                font=dict(family=FONT, size=25, color="black")),
    legend2=dict(x=0.8350, y=0.4597, xanchor="left", yanchor="top",
                 bgcolor="rgba(0,0,0,0)", borderwidth=0, tracegroupgap=0,
                 font=dict(family=FONT, size=25, color="black")),
    legend3=dict(x=0.9355, y=0.4597, xanchor="left", yanchor="top",
                 bgcolor="rgba(0,0,0,0)", borderwidth=0, tracegroupgap=0,
                 font=dict(family=FONT, size=25, color="black")),
)

shapes = []
for ev in event_years:
    shapes.append(dict(type="line", xref="x", yref="y domain", x0=ev, x1=ev, y0=0, y1=1,
                       line=dict(color="rgba(128,128,128,0.55)", width=3, dash="4px,6px"),
                       layer="above"))
# frame of the sector legend
shapes.append(dict(type="rect", xref="paper", yref="paper", x0=0.8280, x1=0.9974,
                   y0=0.3936, y1=0.4590, fillcolor="rgba(255,255,255,0.8)",
                   line=dict(color="#cccccc", width=2), layer="above"))
fig.update_layout(shapes=shapes)

ann = []
for ev, lab in zip(event_years, event_labels):
    ann.append(dict(x=ev, y=10.44, xref="x", yref="y", text=lab, showarrow=False,
                    xanchor="left", yanchor="middle", xshift=4,
                    font=dict(family=FONT, size=19, color="#8c8c8c")))
ann.append(dict(x=0.5, y=1, xref="paper", yref="paper", yanchor="bottom", yshift=8,
                text="<b>Aggregate IP \u2014 Dominant Wavelet Period (1919-2025)</b>",
                showarrow=False, font=dict(family=FONT, size=36, color="black")))
ann.append(dict(x=0.5, y=0.4662, xref="paper", yref="paper", yanchor="bottom", yshift=8,
                text="<b>Sector-Level Dominant Wavelet Periods (1972-2025)</b>",
                showarrow=False, font=dict(family=FONT, size=36, color="black")))
for yc in [(0.5349 + 1) / 2, 0.4662 / 2]:
    ann.append(dict(x=0, y=yc, xref="paper", yref="paper", xanchor="center", yanchor="middle",
                    xshift=-84, textangle=-90, text="Dominant period (years)", showarrow=False,
                    font=dict(family=FONT, size=30, color="black")))
ann.append(dict(x=0.5, y=0, xref="paper", yref="paper", xanchor="center", yanchor="middle",
                yshift=-74, text="Date", showarrow=False,
                font=dict(family=FONT, size=30, color="black")))
fig.update_layout(annotations=ann)

fig.write_html("out.html", config={"displayModeBar": False},
               post_script="document.body.style.margin='0';document.body.style.overflow='hidden';")
